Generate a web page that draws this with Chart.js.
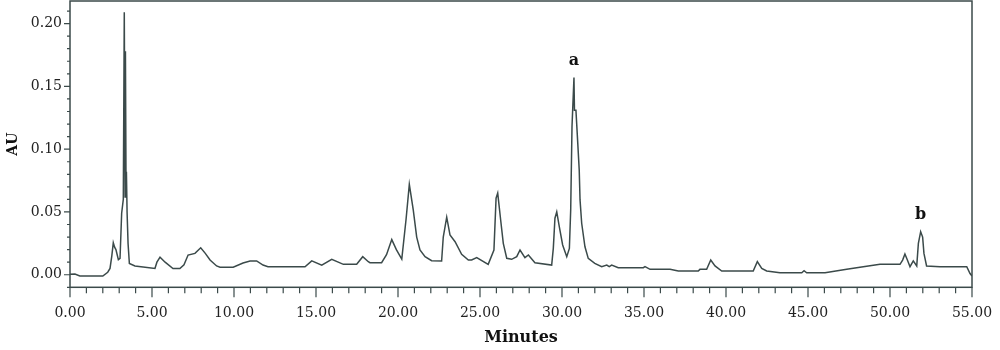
<!DOCTYPE html>
<html>
<head>
<meta charset="utf-8">
<script src="https://cdn.jsdelivr.net/npm/chart.js@4.4.1/dist/chart.umd.min.js"></script>
<style>
  body { margin: 0; background: #fff; }
  #wrap { width: 1000px; height: 350px; }
</style>
</head>
<body>
<div id="wrap"><canvas id="chromChart" width="1000" height="350"></canvas></div>
<script>
// retention time (min) and absorbance (AU)
const minutes = [
  0.0, 0.3, 0.6, 2.0, 2.3, 2.44, 2.55, 2.64, 2.72, 2.8, 2.95, 3.05, 3.15, 3.25, 3.31,
  3.36, 3.38, 3.42, 3.44, 3.48, 3.54, 3.62, 3.96, 5.18, 5.3, 5.49, 5.8, 6.28, 6.7, 6.95,
  7.2, 7.62, 7.97, 8.25, 8.54, 8.94, 9.15, 9.95, 10.55, 10.98, 11.38, 11.77, 12.07, 14.33, 14.74,
  15.35, 15.96, 16.67, 17.48, 17.85, 18.19, 18.29, 19.0, 19.3, 19.62, 19.9, 20.23, 20.49, 20.69, 20.93,
  21.14, 21.34, 21.65, 22.05, 22.66, 22.76, 22.97, 23.17, 23.48, 23.88, 24.29, 24.49, 24.8, 25.5, 25.85,
  25.98, 26.08, 26.26, 26.42, 26.63, 26.93, 27.24, 27.44, 27.74, 27.95, 28.35, 29.37, 29.47, 29.57, 29.68,
  29.84, 30.04, 30.29, 30.45, 30.53, 30.61, 30.73, 30.76, 30.85, 30.96, 31.05, 31.1, 31.2, 31.4, 31.6,
  32.0, 32.42, 32.73, 32.88, 33.03, 33.43, 34.96, 35.06, 35.37, 36.59, 37.09, 38.31, 38.41, 38.82, 39.07,
  39.33, 39.74, 41.66, 41.91, 42.18, 42.48, 43.29, 44.62, 44.76, 44.92, 46.04, 47.36, 48.37, 49.39, 50.61,
  50.77, 50.91, 51.06, 51.22, 51.42, 51.63, 51.73, 51.87, 51.99, 52.07, 52.23, 53.05, 54.68, 54.88, 55.0
];
const absorbance = [
  0.0003, 0.0005, -0.001, -0.001, 0.002, 0.005, 0.015, 0.0255, 0.022, 0.02, 0.012, 0.013, 0.049, 0.06, 0.209,
  0.062, 0.178, 0.062, 0.082, 0.05, 0.025, 0.009, 0.007, 0.005, 0.01, 0.014, 0.01, 0.005, 0.005, 0.008,
  0.0157, 0.017, 0.0215, 0.017, 0.0117, 0.007, 0.006, 0.006, 0.0093, 0.011, 0.011, 0.0077, 0.0064, 0.0064, 0.011,
  0.0077, 0.0123, 0.0083, 0.0083, 0.0144, 0.0104, 0.0096, 0.0096, 0.016, 0.028, 0.02, 0.0125, 0.044, 0.072, 0.0516,
  0.030, 0.0197, 0.0144, 0.0112, 0.011, 0.030, 0.0458, 0.0317, 0.0263, 0.0163, 0.0117, 0.0117, 0.0136, 0.0083, 0.0197,
  0.061, 0.065, 0.0436, 0.025, 0.0131, 0.0123, 0.0144, 0.0197, 0.0136, 0.0157, 0.0096, 0.0077, 0.021, 0.045, 0.050,
  0.038, 0.0237, 0.0144, 0.021, 0.0516, 0.118, 0.157, 0.131, 0.131, 0.105, 0.0835, 0.0596, 0.041, 0.0223, 0.013,
  0.0091, 0.0064, 0.0077, 0.0064, 0.0077, 0.0056, 0.0056, 0.0064, 0.0043, 0.0043, 0.003, 0.003, 0.0043, 0.0043, 0.0117,
  0.007, 0.003, 0.003, 0.0104, 0.005, 0.003, 0.0016, 0.0016, 0.0032, 0.0016, 0.0016, 0.0043, 0.0064, 0.0083, 0.0083,
  0.0117, 0.0165, 0.0117, 0.0064, 0.011, 0.007, 0.025, 0.0343, 0.030, 0.017, 0.007, 0.0064, 0.0064, 0.001, -0.001
];

const xTicks = [0, 5, 10, 15, 20, 25, 30, 35, 40, 45, 50, 55];
const yTicks = [0, 0.05, 0.10, 0.15, 0.20];

const peakLabels = ['a', 'b'];
const peakTimes = [30.73, 51.87];
const peakHeights = [0.157, 0.0343];

const inkColor = '#3b4a4a';
const serif = '"DejaVu Serif", serif';

// frame, tick marks and peak letters
const decorations = {
  id: 'decorations',
  afterDraw(chart) {
    const ctx = chart.ctx;
    const area = chart.chartArea;
    const xs = chart.scales.x;
    const ys = chart.scales.y;
    ctx.save();
    ctx.strokeStyle = inkColor;
    ctx.lineWidth = 1.5;
    ctx.strokeRect(area.left, area.top, area.right - area.left, area.bottom - area.top);

    ctx.lineWidth = 1.2;
    ctx.beginPath();
    for (let i = -1; i <= 21; i++) {
      const py = ys.getPixelForValue(i / 100);
      const len = (i % 5 === 0) ? 6 : 3;
      ctx.moveTo(area.left, py);
      ctx.lineTo(area.left - len, py);
    }
    for (let m = 0; m <= 55; m++) {
      const px = xs.getPixelForValue(m);
      const len = (m % 5 === 0) ? 10 : 6;
      ctx.moveTo(px, area.bottom);
      ctx.lineTo(px, area.bottom + len);
    }
    ctx.stroke();

    ctx.fillStyle = '#111';
    ctx.font = 'bold 16px ' + serif;
    ctx.textAlign = 'center';
    ctx.textBaseline = 'middle';
    peakLabels.forEach((lab, i) => {
      ctx.fillText(lab, xs.getPixelForValue(peakTimes[i]), ys.getPixelForValue(peakHeights[i]) - 17);
    });
    ctx.restore();
  }
};

const ctx = document.getElementById('chromChart').getContext('2d');
new Chart(ctx, {
  type: 'line',
  data: {
    datasets: [{
      data: minutes.map((t, i) => ({ x: t, y: absorbance[i] })),
      borderColor: inkColor,
      borderWidth: 1.5,
      pointRadius: 0,
      tension: 0,
      fill: false
    }]
  },
  options: {
    responsive: false,
    animation: false,
    layout: { padding: { top: 1, right: 28, left: 0, bottom: 0 } },
    plugins: { legend: { display: false }, tooltip: { enabled: false } },
    scales: {
      x: {
        type: 'linear',
        min: 0,
        max: 55,
        afterBuildTicks: s => { s.ticks = xTicks.map(v => ({ value: v })); },
        afterFit: s => { s.height = 62.7; s.paddingLeft = 0; s.paddingRight = 0; },
        grid: { display: false, drawTicks: false },
        border: { display: false },
        ticks: {
          padding: 18,
          color: '#222',
          font: { family: serif, size: 14 },
          maxRotation: 0,
          callback: v => v.toFixed(2)
        },
        title: {
          display: true,
          text: 'Minutes',
          color: '#111',
          font: { family: serif, size: 16, weight: 'bold' },
          padding: { bottom: 3, top: 0 }
        }
      },
      y: {
        min: -0.01,
        max: 0.218,
        afterBuildTicks: s => { s.ticks = yTicks.map(v => ({ value: v })); },
        afterFit: s => { s.width = 70; s.paddingTop = 0; s.paddingBottom = 0; },
        grid: { display: false, drawTicks: false },
        border: { display: false },
        ticks: {
          padding: 8,
          color: '#222',
          font: { family: serif, size: 14 },
          callback: v => v.toFixed(2)
        },
        title: {
          display: true,
          text: 'AU',
          color: '#111',
          font: { family: serif, size: 14, weight: 'bold' },
          padding: { top: 5, bottom: 0 }
        }
      }
    }
  },
  plugins: [decorations]
});
</script>
</body>
</html>
